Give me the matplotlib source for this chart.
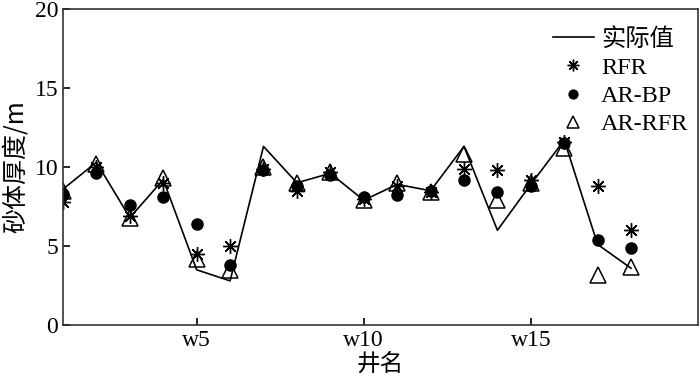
import numpy as np
import matplotlib; matplotlib.use("Agg")
import matplotlib.pyplot as plt

plt.rcParams['font.family'] = ['Liberation Serif', 'Noto Sans CJK SC']

wells = [f"w{i}" for i in range(1, 19)]
actual = [8.6, 10.3, 6.8, 9.2, 3.5, 2.8, 11.3, 9.0, 9.6, 7.9, 8.9, 8.5, 11.3, 6.0, 8.9, 11.7, 5.1, 3.6]
rfr    = [7.8, 10.0, 6.9, 9.0, 4.5, 5.0, 9.9, 8.5, 9.7, 8.0, 8.8, 8.4, 9.9, 9.8, 9.2, 11.6, 8.8, 6.0]
ar_bp  = [8.3, 9.6, 7.6, 8.1, 6.4, 3.8, 9.8, 8.8, 9.5, 8.1, 8.2, 8.5, 9.2, 8.4, 8.8, 11.5, 5.4, 4.85]
ar_rfr = [8.5, 10.2, 6.8, 9.3, 4.2, 3.5, 10.0, 9.0, 9.7, 7.9, 9.0, 8.4, 10.8, 7.9, 9.0, 11.2, 3.2, 3.7]
tick_wells = ['w5', 'w10', 'w15']

x = np.arange(1, len(wells) + 1)
fig = plt.figure(figsize=(7, 3.83), dpi=100)
ax = fig.add_axes([0.09, 0.151, 0.907, 0.826])
ax.plot(x, actual, color='black', lw=1.2, label='实际值')
# asterisk with 8 spokes
ax.plot(x, rfr, ls='none', marker=(8, 2, 0), ms=10.5, mew=1.0, color='black', label='RFR')
ax.plot(x, ar_bp, ls='none', marker='o', ms=8, color='black', label='AR-BP')
ax.plot(x, ar_rfr, ls='none', marker='^', ms=11, mfc='none', mec='black', mew=1.1, label='AR-RFR')

ax.set_xlim(1, 20); ax.set_ylim(0, 20)
ax.set_xticks([wells.index(w) + 1 for w in tick_wells])
ax.set_xticklabels(tick_wells)
ax.set_yticks([0, 5, 10, 15, 20])
ax.tick_params(direction='in', labelsize=17, length=5, width=1.2)
for s in ax.spines.values(): s.set_linewidth(1.2); s.set_color('#333333')
ax.set_xlabel('井名', fontsize=17, family=['Noto Sans CJK SC'], labelpad=1)
ax.set_ylabel('砂体厚度/m', fontsize=18, family=['Noto Sans CJK SC', 'Liberation Serif'], labelpad=4)
leg = ax.legend(loc='upper right', bbox_to_anchor=(1.0, 0.97), frameon=False,
                handlelength=1.65, handletextpad=0.3, labelspacing=0.25, borderaxespad=0,
                markerscale=0.8,
                prop={'family': ['Liberation Serif', 'Noto Sans CJK SC'], 'size': 17.5})
plt.savefig('out.png', dpi=100)
